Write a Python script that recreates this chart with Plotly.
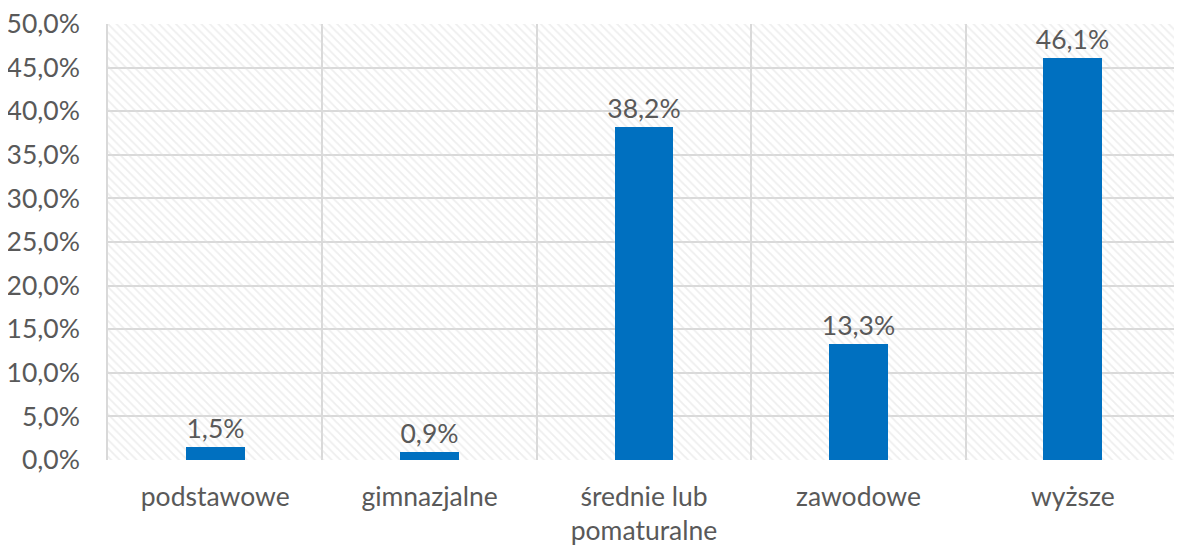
import plotly.graph_objects as go

categories = ["podstawowe", "gimnazjalne", "średnie lub<br>pomaturalne", "zawodowe", "wyższe"]
values = [1.5, 0.9, 38.2, 13.3, 46.1]
y_ticks = [0, 5, 10, 15, 20, 25, 30, 35, 40, 45, 50]

FONT = "Lato"
TXT = "#595959"
GRID = "#d9d9d9"
FS = 26.5

fig = go.Figure()

# hatched plot-area background on the base axis (transparent between lines so gridlines show)
fig.add_trace(go.Bar(
    x=[0.5], y=[max(y_ticks)], width=[1], xaxis="x", yaxis="y",
    marker=dict(color="rgba(0,0,0,0)", line=dict(width=0),
                pattern=dict(shape="\\", fgcolor="#dedede", bgcolor="rgba(0,0,0,0)", size=6, solidity=0.3)),
    hoverinfo="skip", showlegend=False,
))

fig.add_trace(go.Bar(
    x=categories, y=values, width=0.275, xaxis="x2", yaxis="y",
    marker=dict(color="#0070c0", line=dict(width=0)),
    texttemplate="%{y:.1f}%", textposition="outside", cliponaxis=False, constraintext="none",
    textfont=dict(family=FONT, size=FS, color=TXT),
    showlegend=False,
))

# the page body adds an 8px offset, so the figure is sized to fit the 1182x547 window
fig.update_layout(
    width=1174, height=539,
    margin=dict(l=100, r=2, t=16, b=87),
    paper_bgcolor="white", plot_bgcolor="white",
    separators=", ",
    bargap=0, barmode="overlay",
    font=dict(family=FONT, size=FS, color=TXT),
    xaxis=dict(range=[0, 1], showgrid=True, gridcolor=GRID, gridwidth=1.5,
               tick0=0, dtick=0.2, showticklabels=False, ticks="", zeroline=False,
               showline=False, automargin=False),
    xaxis2=dict(type="category", overlaying="x", side="bottom", showgrid=False, showline=False, ticks="",
                tickfont=dict(family=FONT, size=FS, color=TXT), ticklabelstandoff=18,
                automargin=False, ticklabeloverflow="allow"),
    yaxis=dict(range=[0, 50], tickvals=y_ticks, ticktext=[f"{v:.1f}".replace(".", ",") + "%" for v in y_ticks],
               showgrid=True, gridcolor=GRID, gridwidth=1.5, zeroline=False,
               showline=True, linecolor=GRID, linewidth=1.5, automargin=False,
               ticklabeloverflow="allow",
               tickfont=dict(family=FONT, size=FS, color=TXT), ticks="", ticklabelstandoff=21),
)

fig.write_html("out.html")
